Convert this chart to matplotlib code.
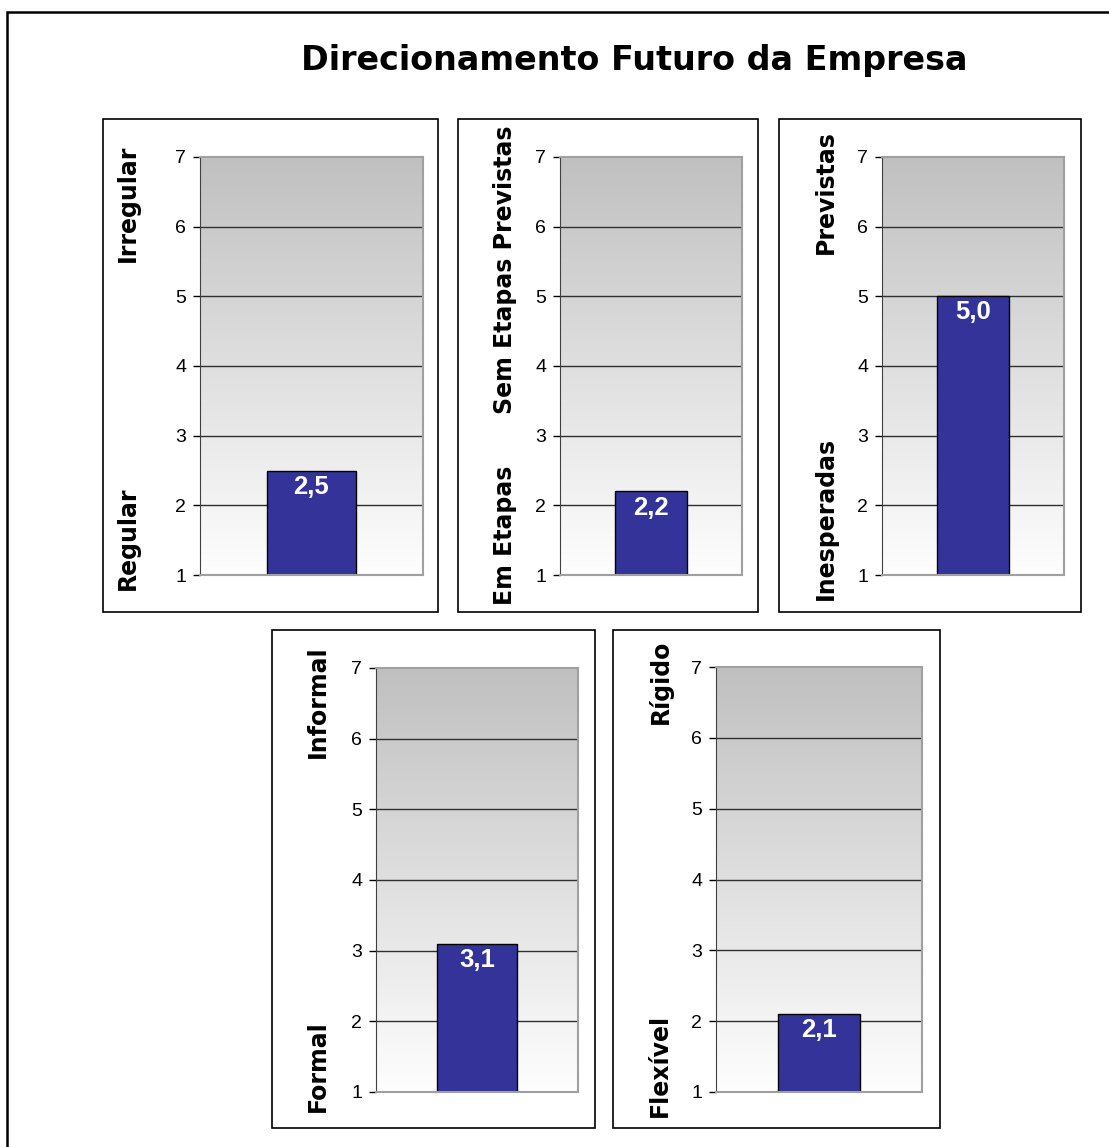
import numpy as np
import matplotlib
matplotlib.use("Agg")
import matplotlib.pyplot as plt
from matplotlib.patches import Rectangle

plt.rcParams["font.family"] = ["Liberation Sans", "DejaVu Sans"]
WIDE = ["DejaVu Sans"]  # wider bold face for title and pole labels

W, H = 1109, 1147

# survey scores (scale 1..7) per dimension
title = "Direcionamento Futuro da Empresa"
low_labels = ["Regular", "Em Etapas", "Inesperadas", "Formal", "Flexível"]
high_labels = ["Irregular", "Sem Etapas Previstas", "Previstas", "Informal", "Rígido"]
scores = [2.5, 2.2, 5.0, 3.1, 2.1]
y_ticks = [1, 2, 3, 4, 5, 6, 7]

# pixel layout: plot area (left, top, right, bottom), frame box, pole label x / top / bottom
plot_px = [(200, 157, 423, 575), (560, 157, 742, 575), (882, 157, 1064, 575),
           (376, 668, 578, 1092), (716, 667, 922, 1092)]
box_px = [(103, 119, 438, 612), (458, 119, 758, 612), (779, 119, 1081, 612),
          (272, 630, 595, 1128), (613, 630, 940, 1128)]
label_x = [128, 505, 826, 318, 660]
label_top = [145, 125, 130, 645, 640]
label_bot = [590, 605, 600, 1112, 1117]

BAR = "#333399"


def fx(x):
    return x / W


def fy(y):
    return 1 - y / H


fig = plt.figure(figsize=(W / 100, H / 100), dpi=100)

# outer frame runs off the right and bottom edges
fig.patches.append(Rectangle((fx(7), -0.05), 1.2, fy(12) + 0.05, transform=fig.transFigure,
                             fill=False, ec="black", lw=1.8))
fig.text(fx(634), fy(70), title, ha="center", va="baseline", fontsize=24,
         fontweight="bold", family=WIDE)

grad = np.linspace(1.0, 0.0, 256).reshape(-1, 1)
cmap = matplotlib.colors.LinearSegmentedColormap.from_list("bg", ["#fefefe", "#c0c0c0"])

for i, (lo, hi, val) in enumerate(zip(low_labels, high_labels, scores)):
    bx = box_px[i]
    fig.patches.append(Rectangle((fx(bx[0]), fy(bx[3])), (bx[2] - bx[0]) / W, (bx[3] - bx[1]) / H,
                                 transform=fig.transFigure, fill=False, ec="black", lw=1.2))
    l, t, r, b = plot_px[i]
    ax = fig.add_axes([fx(l), fy(b), (r - l) / W, (b - t) / H])
    ax.imshow(grad, extent=(0, 1, 0, 1), transform=ax.transAxes, aspect="auto",
              cmap=cmap, vmin=0, vmax=1, zorder=0)
    ax.set_xlim(-0.5, 0.5)
    ax.set_ylim(1, 7)
    ax.set_yticks(y_ticks)
    ax.tick_params(axis="y", labelsize=14, length=5, width=1, pad=5, direction="out")
    ax.tick_params(axis="x", bottom=False, labelbottom=False)
    for g in y_ticks[1:-1]:
        ax.axhline(g, color="#303030", lw=1, zorder=1)
    for s in ("top", "right", "bottom"):
        ax.spines[s].set_color("#a0a0a0")
        ax.spines[s].set_linewidth(1.5)
    ax.spines["left"].set_color("#404040")
    ax.bar([0], [val - 1], bottom=1, width=0.4, color=BAR, ec="black", lw=1, zorder=2)
    ax.annotate(f"{val:.1f}".replace(".", ","), (0, val), xytext=(0, -3), textcoords="offset points",
                ha="center", va="top", color="white", fontsize=18.5, fontweight="bold", zorder=3)

    fig.text(fx(label_x[i]), fy(label_top[i]), hi, rotation=90, ha="center", va="top",
             fontsize=17, fontweight="bold", family=WIDE)
    fig.text(fx(label_x[i]), fy(label_bot[i]), lo, rotation=90, ha="center", va="bottom",
             fontsize=17, fontweight="bold", family=WIDE)

fig.savefig("out.png", dpi=100)
